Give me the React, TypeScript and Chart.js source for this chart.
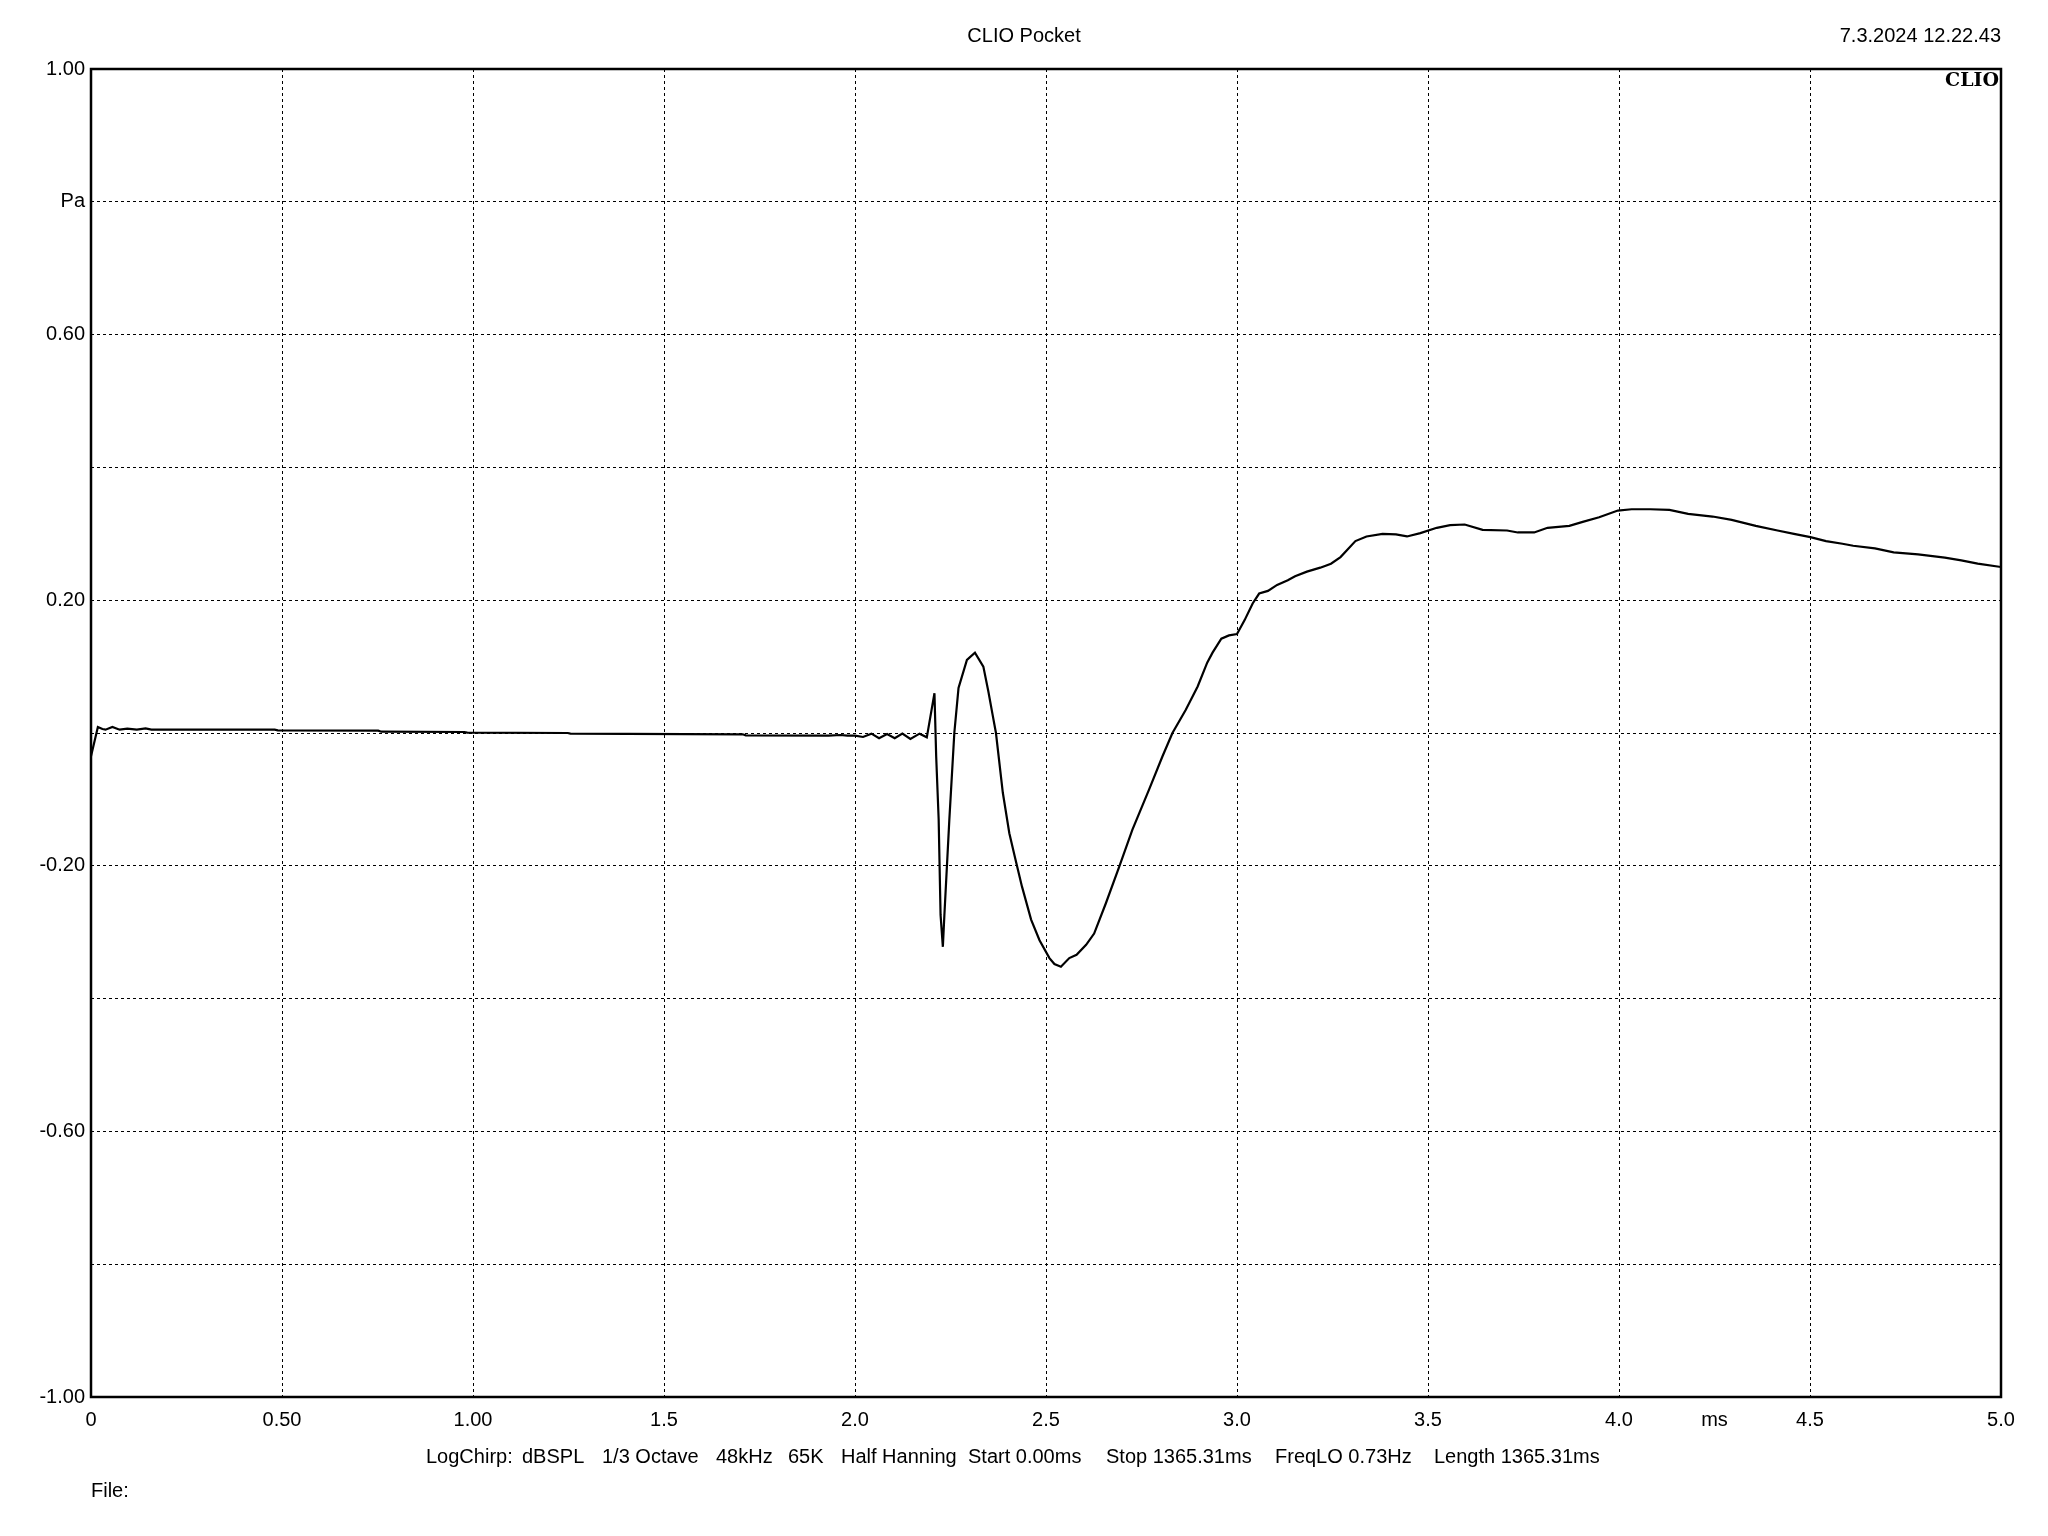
import React, { useEffect, useRef } from "react";
import Chart from "chart.js/auto";

const timeMs: number[] = [
  0.0, 0.018, 0.03, 0.038, 0.056, 0.075, 0.095, 0.12, 0.143, 0.158, 0.481, 0.489, 0.752, 0.76,
  0.977, 0.985, 1.248, 1.255, 1.706, 1.714, 1.931, 1.962, 1.98, 2.0, 2.021, 2.043, 2.063, 2.084,
  2.104, 2.124, 2.145, 2.169, 2.188, 2.208, 2.2125, 2.219, 2.224, 2.23, 2.234, 2.247, 2.26, 2.271,
  2.293, 2.314, 2.336, 2.349, 2.361, 2.369, 2.387, 2.404, 2.419, 2.437, 2.461, 2.483, 2.509, 2.522,
  2.539, 2.561, 2.58, 2.605, 2.626, 2.657, 2.692, 2.726, 2.77, 2.805, 2.831, 2.866, 2.897, 2.922,
  2.936, 2.959, 2.979, 3.0, 3.02, 3.041, 3.058, 3.081, 3.105, 3.133, 3.152, 3.183, 3.218, 3.246,
  3.271, 3.31, 3.339, 3.381, 3.416, 3.445, 3.48, 3.523, 3.558, 3.596, 3.643, 3.707, 3.735, 3.778,
  3.813, 3.87, 3.905, 3.948, 3.997, 4.033, 4.082, 4.132, 4.181, 4.245, 4.295, 4.358, 4.415, 4.458,
  4.501, 4.542, 4.585, 4.613, 4.67, 4.719, 4.783, 4.853, 4.896, 4.939, 5.0,
];

const pressurePa: number[] = [
  -0.035, 0.009, 0.006, 0.005, 0.009, 0.005, 0.0065, 0.005, 0.007, 0.005, 0.005, 0.004, 0.0035, 0.002,
  0.0015, 0.0005, 0.0, -0.001, -0.002, -0.0035, -0.004, -0.003, -0.004, -0.004, -0.006, -0.001, -0.008, -0.0015,
  -0.008, -0.001, -0.009, -0.001, -0.0065, 0.06, -0.035, -0.13, -0.274, -0.322, -0.274, -0.13, 0.0, 0.068,
  0.11, 0.121, 0.1, 0.063, 0.025, 0.0, -0.09, -0.151, -0.188, -0.231, -0.281, -0.312, -0.339, -0.348,
  -0.352, -0.339, -0.334, -0.319, -0.302, -0.256, -0.201, -0.146, -0.085, -0.035, 0.0, 0.035, 0.07, 0.106,
  0.121, 0.142, 0.147, 0.149, 0.17, 0.195, 0.21, 0.214, 0.223, 0.23, 0.236, 0.243, 0.249, 0.255,
  0.265, 0.289, 0.296, 0.3, 0.299, 0.296, 0.301, 0.309, 0.313, 0.314, 0.306, 0.305, 0.302, 0.302,
  0.309, 0.312, 0.318, 0.325, 0.335, 0.337, 0.337, 0.336, 0.33, 0.326, 0.321, 0.312, 0.305, 0.3,
  0.295, 0.289, 0.285, 0.282, 0.278, 0.272, 0.269, 0.264, 0.26, 0.255, 0.25,
];

// x tick labels keyed by value*4 (0.25 ms steps)
const xTickLabels: Record<number, string> = {
  0: "0", 2: "0.50", 4: "1.00", 6: "1.5", 8: "2.0", 10: "2.5", 12: "3.0", 14: "3.5", 16: "4.0", 17: "ms", 18: "4.5", 20: "5.0",
};
// y tick labels keyed by value*10
const yTickLabels: Record<number, string> = {
  10: "1.00", 8: "Pa", 6: "0.60", 2: "0.20", [-2]: "-0.20", [-6]: "-0.60", [-10]: "-1.00",
};

const titleText = "CLIO Pocket";
const dateText = "7.3.2024 12.22.43";
const brandText = "CLIO";
const infoItems: string[] = [
  "LogChirp:", "dBSPL", "1/3 Octave", "48kHz", "65K", "Half Hanning", "Start 0.00ms", "Stop 1365.31ms", "FreqLO 0.73Hz", "Length 1365.31ms",
];
const infoX: number[] = [426, 522, 602, 716, 788, 841, 968, 1106, 1275, 1434];
const fileText = "File:";

const SANS = '"Liberation Sans", Arial, sans-serif';
const FS = 20;

const decorPlugin = {
  id: "decor",
  afterDatasetsDraw(chart: any) {
    const { ctx, chartArea } = chart;
    ctx.save();
    ctx.strokeStyle = "#000";
    ctx.lineWidth = 2.5;
    ctx.setLineDash([]);
    ctx.strokeRect(chartArea.left, chartArea.top, chartArea.right - chartArea.left, chartArea.bottom - chartArea.top);
    ctx.restore();
  },
  afterDraw(chart: any) {
    const { ctx, chartArea } = chart;
    ctx.save();
    ctx.fillStyle = "#000";
    ctx.textBaseline = "alphabetic";
    ctx.font = `${FS}px ${SANS}`;
    ctx.textAlign = "center";
    ctx.fillText(titleText, 1024, 42);
    ctx.textAlign = "right";
    ctx.fillText(dateText, chartArea.right, 42);
    ctx.textAlign = "left";
    infoItems.forEach((t, i) => ctx.fillText(t, infoX[i], 1463));
    ctx.fillText(fileText, chartArea.left, 1497);
    ctx.font = `bold 19px "DejaVu Serif", "Liberation Serif", serif`;
    ctx.textAlign = "right";
    ctx.fillText(brandText, chartArea.right - 2, 86);
    ctx.restore();
  },
};

export default function App() {
  const ref = useRef<HTMLCanvasElement | null>(null);
  useEffect(() => {
    if (!ref.current) return;
    const data = timeMs.map((x, i) => ({ x, y: pressurePa[i] }));
    const chart = new Chart(ref.current, {
      type: "line",
      data: {
        datasets: [
          {
            data,
            borderColor: "#000",
            borderWidth: 2.2,
            pointRadius: 0,
            tension: 0,
            fill: false,
          },
        ],
      },
      options: {
        responsive: false,
        animation: false,
        devicePixelRatio: 1,
        layout: { padding: { left: 0, top: 69, right: 47, bottom: 0 } },
        plugins: { legend: { display: false }, tooltip: { enabled: false }, title: { display: false } },
        scales: {
          x: {
            type: "linear",
            min: 0,
            max: 5,
            afterFit: (s: any) => {
              s.height = 139;
            },
            ticks: {
              stepSize: 0.25,
              autoSkip: false,
              maxRotation: 0,
              minRotation: 0,
              padding: 11,
              color: "#000",
              font: { family: SANS, size: FS },
              callback: (v: any) => {
                const k = Math.round(Number(v) * 4);
                return xTickLabels[k] ?? "";
              },
            },
            grid: {
              drawTicks: false,
              lineWidth: 1,
              color: (c: any) => {
                const v = c.tick ? c.tick.value : null;
                if (v == null) return "rgba(0,0,0,0)";
                const k = Math.round(v * 4);
                return k % 2 === 0 && k > 0 && k < 20 ? "#000" : "rgba(0,0,0,0)";
              },
            },
            border: { display: false, dash: [3, 3] },
          },
          y: {
            type: "linear",
            min: -1,
            max: 1,
            afterFit: (s: any) => {
              s.width = 91;
            },
            ticks: {
              stepSize: 0.2,
              autoSkip: false,
              padding: 6,
              color: "#000",
              font: { family: SANS, size: FS },
              callback: (v: any) => {
                const k = Math.round(Number(v) * 10);
                return yTickLabels[k] ?? "";
              },
            },
            grid: {
              drawTicks: false,
              lineWidth: 1,
              color: (c: any) => {
                const v = c.tick ? c.tick.value : null;
                if (v == null) return "rgba(0,0,0,0)";
                const k = Math.round(v * 10);
                return k > -10 && k < 10 ? "#000" : "rgba(0,0,0,0)";
              },
            },
            border: { display: false, dash: [3, 3] },
          },
        },
      },
      plugins: [decorPlugin],
    });
    return () => chart.destroy();
  }, []);
  return (
    <div style={{ position: "fixed", left: 0, top: 0, width: 2048, height: 1536, background: "#fff" }}>
      <canvas ref={ref} width={2048} height={1536} style={{ width: 2048, height: 1536, display: "block" }} />
    </div>
  );
}
